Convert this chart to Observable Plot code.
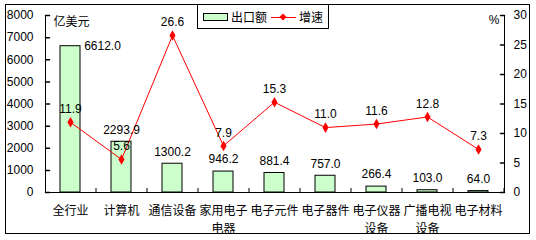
<!DOCTYPE html>
<html><head><meta charset="utf-8">
<script src="https://cdn.jsdelivr.net/npm/d3@7"></script>
<script src="https://cdn.jsdelivr.net/npm/@observablehq/plot@0.6"></script>
<style>
body{margin:0;background:#fff;font-family:"Liberation Sans","Noto Sans CJK SC",sans-serif;}
#wrap{position:relative;width:536px;height:240px;overflow:hidden;}
#border{position:absolute;left:5px;top:4px;width:525px;height:230px;border:1px solid #000;box-sizing:border-box;pointer-events:none;}
#legend{position:absolute;left:197px;top:4px;width:132px;height:25px;border:1px solid #000;box-sizing:border-box;background:#fff;font-size:12px;display:flex;align-items:center;padding-left:5px;}
#legend .sw{width:23px;height:6px;background:#CCFFCC;border:1px solid #000;margin-right:3px;}
#legend .ln{position:relative;width:25px;height:12px;margin-left:4px;margin-right:3px;}
#legend .ln:before{content:"";position:absolute;left:0;right:0;top:6px;border-top:1px solid red;}
#legend .ln:after{content:"";position:absolute;left:9px;top:3px;width:6px;height:6px;background:red;transform:rotate(45deg) scale(0.85);}
svg{position:absolute;left:0;top:0;}
</style>
</head><body>
<div id="wrap"><div id="border"></div></div>
<script>
const categories = ["全行业","计算机","通信设备","家用电子\n电器","电子元件","电子器件","电子仪器\n设备","广播电视\n设备","电子材料"];
const exportValues = [6612.0, 2293.9, 1300.2, 946.2, 881.4, 757.0, 266.4, 103.0, 64.0];
const growthRates = [11.9, 5.6, 26.6, 7.9, 15.3, 11.0, 11.6, 12.8, 7.3];
const leftTicks = [0, 1000, 2000, 3000, 4000, 5000, 6000, 7000, 8000];
const rightTicks = [0, 5, 10, 15, 20, 25, 30];
const leftMax = 8000, rightMax = 30;

const toY = p => p * leftMax / rightMax;
const data = categories.map((c, i) => ({cat: c, value: exportValues[i], pct: growthRates[i], i}));
const tickShape = {draw(ctx, l){ ctx.moveTo(0, 0); ctx.lineTo(0, -l); }};
const font = '"Liberation Sans","Noto Sans CJK SC",sans-serif';

const chart = Plot.plot({
  width: 536, height: 240,
  marginLeft: 45, marginRight: 32, marginTop: 15, marginBottom: 48,
  style: {fontSize: "12px", fontFamily: font, color: "#000", background: "transparent", overflow: "visible"},
  x: {type: "band", domain: categories, paddingInner: 0.6, paddingOuter: 0.3, axis: null, label: null},
  y: {domain: [0, leftMax], axis: null, label: null},
  marks: [
    Plot.barY(data, {x: "cat", y: "value", fill: "#CCFFCC", stroke: "#000", strokeWidth: 1}),
    Plot.frame({anchor: "left", stroke: "#000"}),
    Plot.frame({anchor: "right", stroke: "#000"}),
    Plot.ruleY([0], {stroke: "#000"}),
    Plot.ruleX(categories, {x: d => d, dx: 25.5, y1: 0, y2: 0, insetTop: -4, stroke: "#000"}),
    Plot.vector(leftTicks, {y: d => d, frameAnchor: "left", rotate: 90, length: 4, anchor: "start", shape: tickShape, stroke: "#000"}),
    Plot.vector(rightTicks, {y: d => toY(d), frameAnchor: "right", rotate: -90, length: 4, anchor: "start", shape: tickShape, stroke: "#000"}),
    Plot.axisY({ticks: leftTicks, tickSize: 0, tickPadding: 12, anchor: "left", label: null, tickFormat: d => String(d)}),
    Plot.axisY({ticks: rightTicks.map(toY), tickSize: 0, tickPadding: 9, anchor: "right", label: null, tickFormat: d => String(Math.round(d * rightMax / leftMax))}),
    Plot.axisX({tickSize: 0, tickPadding: 10, lineHeight: 1.5, label: null}),
    Plot.text(["亿美元"], {frameAnchor: "top-left", textAnchor: "start", dx: 8, dy: 2}),
    Plot.text(["%"], {frameAnchor: "top-right", textAnchor: "end", dx: -5, dy: 0}),
    Plot.line(data, {x: "cat", y: d => toY(d.pct), stroke: "red", strokeWidth: 1}),
    Plot.dot(data, {x: "cat", y: d => toY(d.pct), symbol: "diamond", r: 3.2, fill: "red", stroke: "none"}),
    Plot.text(data.filter(d => d.i > 0), {x: "cat", y: "value", text: d => d.value.toFixed(1), dy: -12}),
    Plot.text(data.filter(d => d.i === 0), {x: "cat", y: "value", text: d => d.value.toFixed(1), dx: 32, dy: 0}),
    Plot.text(data, {x: "cat", y: d => toY(d.pct), text: d => d.pct.toFixed(1), dy: -13})
  ]
});
const wrap = document.getElementById("wrap");
wrap.insertBefore(chart, wrap.firstChild);
const legend = document.createElement("div");
legend.id = "legend";
legend.innerHTML = '<span class="sw"></span><span>出口额</span><span class="ln"></span><span>增速</span>';
wrap.appendChild(legend);
</script>
</body></html>
